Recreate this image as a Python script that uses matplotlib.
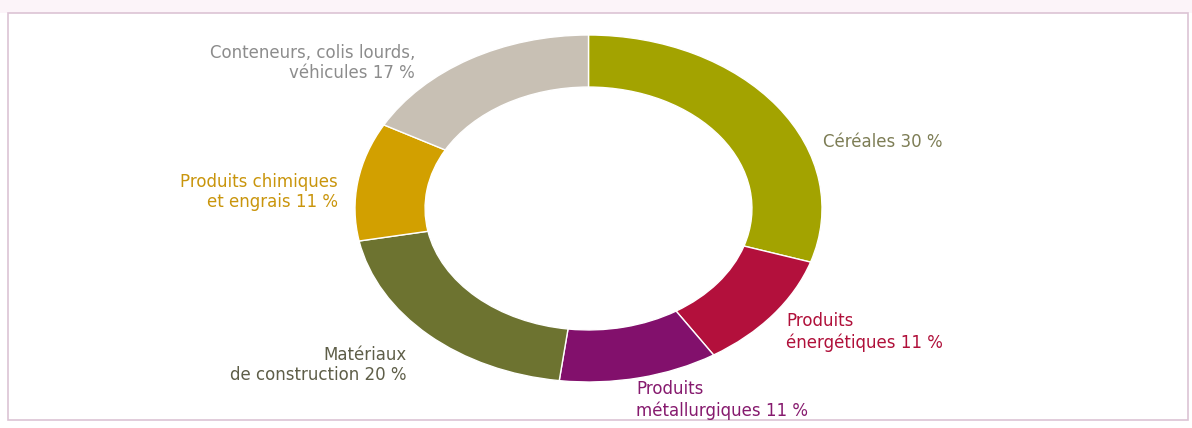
import matplotlib.pyplot as plt
from matplotlib.patches import Rectangle

# parts of the traffic (clockwise from the top)
categories = ["Céréales", "Produits\nénergétiques", "Produits\nmétallurgiques",
              "Matériaux\nde construction", "Produits chimiques\net engrais",
              "Conteneurs, colis lourds,\nvéhicules"]
shares = [30, 11, 11, 20, 11, 17]
colors = ["#a3a300", "#b3103c", "#82106c", "#6d7330", "#d2a000", "#c8c0b4"]
text_colors = ["#7d7d55", "#b0103a", "#861a6e", "#5e5e48", "#c9950c", "#8c8c8c"]

W, H = 1192, 428
fig = plt.figure(figsize=(W / 100, H / 100), dpi=100)
fig.patch.set_facecolor("white")

# faint header band and the pink frame
fig.add_artist(Rectangle((0, 1 - 13 / H), 1, 13 / H, transform=fig.transFigure,
                         facecolor="#fcf4f9", edgecolor="none"))
fig.add_artist(Rectangle((8 / W, 1 - 420 / H), 1180 / W, 407 / H, transform=fig.transFigure,
                         facecolor="none", edgecolor="#dcc3d4", linewidth=1.2))

# the donut is stretched horizontally in the reference
ax = fig.add_axes([355 / W, 1 - 382 / H, 467 / W, 347 / H])
ax.pie(shares, colors=colors, startangle=90, counterclock=False, radius=1,
       wedgeprops=dict(width=0.3, edgecolor="white", linewidth=1))
ax.set_aspect("auto")
ax.set_xlim(-1, 1)
ax.set_ylim(-1, 1)
ax.axis("off")

# label placement in pixels: (x, y of label centre, ha)
label_pos = [(823, 142, "left"), (786, 332, "left"), (636, 400, "left"),
             (407, 365, "right"), (338, 192, "right"), (415, 63, "right")]
for cat, s, tc, (x, y, ha) in zip(categories, shares, text_colors, label_pos):
    fig.text(x / W, 1 - y / H, f"{cat} {s} %", color=tc, ha=ha, va="center",
             fontsize=12, family="DejaVu Sans", linespacing=1.2,
             multialignment=ha)

fig.savefig("out.png", dpi=100)
